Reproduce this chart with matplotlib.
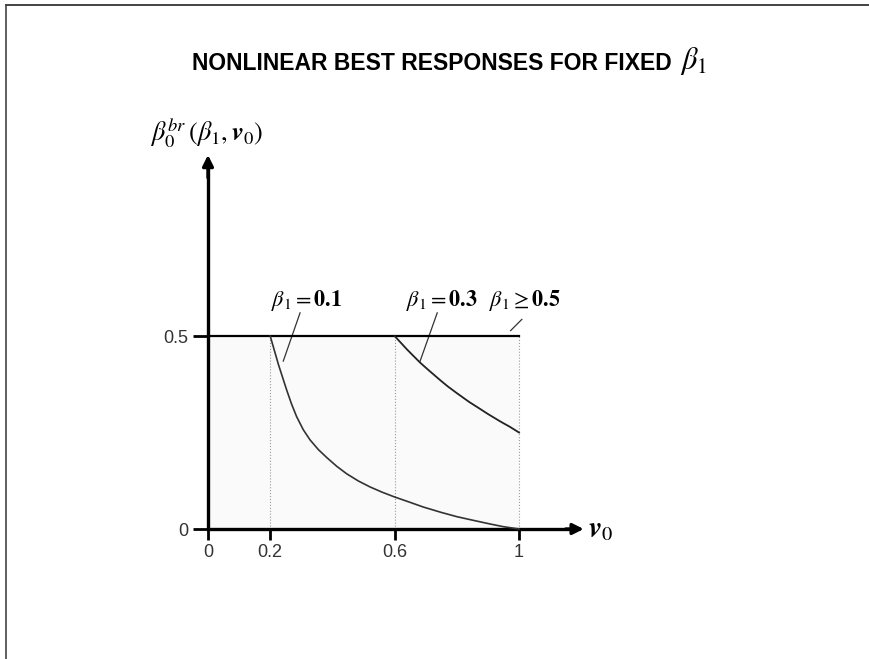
import matplotlib.pyplot as plt
from matplotlib.lines import Line2D

plt.rcParams['mathtext.fontset'] = 'custom'
plt.rcParams['mathtext.rm'] = 'STIXGeneral'
plt.rcParams['mathtext.it'] = 'STIXGeneral:italic'
plt.rcParams['mathtext.bf'] = 'STIXGeneral:italic:bold'
plt.rcParams['font.family'] = 'Liberation Sans'

# best response curves
v0_b01 = [0.2, 0.2265, 0.253, 0.269, 0.285, 0.3065, 0.328, 0.355, 0.382, 0.414, 0.446,
          0.4835, 0.521, 0.5605, 0.6, 0.65, 0.692, 0.75, 0.8, 0.85, 0.907, 0.95, 1.0]
b0_b01 = [0.5, 0.426, 0.36, 0.323, 0.291, 0.257, 0.231, 0.2056, 0.185, 0.1624, 0.143,
          0.1244, 0.109, 0.0952, 0.083, 0.069, 0.057, 0.043, 0.032, 0.023, 0.013, 0.006, 0.0]

v0_b03 = [0.6, 0.64, 0.682, 0.71, 0.746, 0.77, 0.8, 0.84, 0.875, 0.90, 0.939, 0.97, 1.0]
b0_b03 = [0.5, 0.465, 0.431, 0.411, 0.386, 0.370, 0.352, 0.329, 0.311, 0.298, 0.279, 0.265, 0.25]

v0_b05 = [0.0, 1.0]
b0_b05 = [0.5, 0.5]

kinks = [0.2, 0.6, 1.0]
xticks = [0, 0.2, 0.6, 1]
xticklabels = ['0', '0.2', '0.6', '1']
yticks = [0, 0.5]
yticklabels = ['0', '0.5']

fig = plt.figure(figsize=(8.7, 6.59), dpi=100)
ax = fig.add_axes([0.1497, 0.0801, 0.572, 0.7322])
ax.set_xlim(-0.25, 1.35)
ax.set_ylim(-0.2, 1.05)

# light shaded region under the 0.5 line
ax.fill_between(v0_b05, [0, 0], b0_b05, color='#fafafa', lw=0, zorder=0)
for k in kinks:
    ax.plot([k, k], [0, 0.5], color='#999999', lw=0.8, ls=':', zorder=1)

ax.plot(v0_b05, b0_b05, color='k', lw=1.6, zorder=3)
ax.plot(v0_b01, b0_b01, color='#333333', lw=1.2, zorder=3)
ax.plot(v0_b03, b0_b03, color='#222222', lw=1.3, zorder=3)

# axes with arrows
for s in ['top', 'right']:
    ax.spines[s].set_visible(False)
ax.spines['left'].set_position(('data', 0))
ax.spines['bottom'].set_position(('data', 0))
ax.spines['left'].set_bounds(0, 0.94)
ax.spines['bottom'].set_bounds(0, 1.18)
ax.spines['left'].set_linewidth(2.4)
ax.spines['bottom'].set_linewidth(2.4)
ax.annotate('', xy=(0, 0.969), xytext=(0, 0.91),
            arrowprops=dict(arrowstyle='-|>', lw=2.4, color='k', mutation_scale=16,
                            shrinkA=0, shrinkB=0))
ax.annotate('', xy=(1.208, 0), xytext=(1.15, 0),
            arrowprops=dict(arrowstyle='-|>', lw=2.4, color='k', mutation_scale=16,
                            shrinkA=0, shrinkB=0))

ax.set_xticks(xticks)
ax.set_xticklabels(xticklabels)
ax.set_yticks(yticks)
ax.set_yticklabels(yticklabels)
ax.tick_params(axis='x', direction='out', length=8, width=2, pad=3, labelsize=13,
               labelcolor='#333333')
ax.tick_params(axis='y', direction='out', length=11, width=2, pad=3, labelsize=13,
               labelcolor='#333333')

# curve labels
lab = dict(fontsize=16, fontweight='bold', family='STIXGeneral', ha='center', va='baseline')
ax.text(0.317, 0.578, r'$\beta_1 = $0.1', **lab)
ax.text(0.751, 0.578, r'$\beta_1 = $0.3', **lab)
ax.text(1.019, 0.578, r'$\beta_1 \geq $0.5', **lab)
ax.plot([0.296, 0.242], [0.560, 0.435], color='#333333', lw=0.9)
ax.plot([0.737, 0.682], [0.560, 0.435], color='#333333', lw=0.9)
ax.plot([1.009, 0.973], [0.543, 0.514], color='#333333', lw=0.9)

ax.text(-0.186, 1.028, r'$\beta_0^{br}\,(\beta_1,\mathbf{v}_0)$', fontsize=19,
        ha='left', va='center')
ax.text(1.222, 0.0, r'$\mathbf{v}_0$', fontsize=21, ha='left', va='center')

# title, with a larger beta after the bold caps
title = fig.text(192 / 870, 1 - 63 / 659, 'NONLINEAR BEST RESPONSES FOR FIXED',
                 fontsize=16.5, fontweight='bold', ha='left', va='center')
fig.canvas.draw()
bb = title.get_window_extent()
fig.text((bb.x1 + 8) / 870, 1 - 61 / 659, r'$\beta_1$', fontsize=22, ha='left', va='center')

# frame around the slide
fig.add_artist(Line2D([6 / 870, 1], [1 - 5 / 659, 1 - 5 / 659], color='#222222', lw=1.2,
                      transform=fig.transFigure))
fig.add_artist(Line2D([6 / 870, 6 / 870], [0, 1 - 5 / 659], color='#444444', lw=1.2,
                      transform=fig.transFigure))

fig.savefig('out.png', dpi=100)
